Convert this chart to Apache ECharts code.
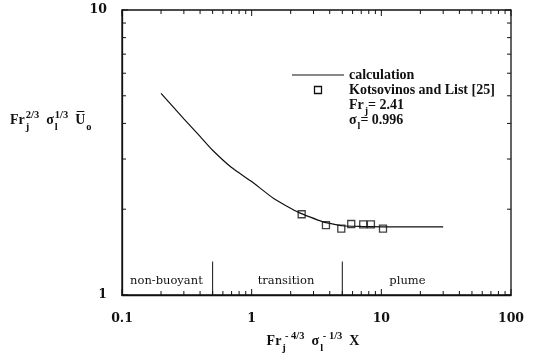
<!DOCTYPE html>
<html><head><meta charset="utf-8">
<script src="https://cdn.jsdelivr.net/npm/echarts@6/dist/echarts.min.js"></script>
<style>html,body{margin:0;padding:0;background:#fff}#c{width:537px;height:356px}</style>
</head><body><div id="c"></div>
<script>
// ---- data ----
const calcX = [0.2, 0.3, 0.4, 0.5, 0.7, 1.0, 1.5, 2.3, 3.5, 5.0, 7.0, 10, 20, 30];
const calcY = [5.1, 4.15, 3.6, 3.22, 2.8, 2.5, 2.17, 1.95, 1.81, 1.75, 1.74, 1.735, 1.735, 1.735];
const expX = [2.43, 3.74, 4.91, 5.86, 7.25, 8.31, 10.3];
const expY = [1.92, 1.76, 1.71, 1.775, 1.77, 1.77, 1.71];
const xTickLabels = ['0.1', '1', '10', '100'];
const yTickLabels = ['1', '10'];
const regionNames = ['non-buoyant', 'transition', 'plume'];
const regionX = [0.22, 1.84, 15.9];
const regionY = [1.12, 1.12, 1.12];
const boundaryX = [0.5, 5];
const boundaryTop = 1.31;
const legendNames = ['calculation', 'Kotsovinos and List [25]'];
const paramLines = [['Fr', 'j', '= 2.41'], ['σ', 'l', '= 0.996']];

// ---- helpers ----
const SERIF = '"Liberation Serif", "Times New Roman", serif';
const fontMain = 'bold 14px ' + SERIF;
const fontSmall = 'bold 10.5px ' + SERIF;
const fontLeg = 'bold 14px ' + SERIF;
const fontLegSmall = 'bold 10px ' + SERIF;
const cv = document.createElement('canvas').getContext('2d');
function tw(t, f) { cv.font = f; return cv.measureText(t).width; }

function mathRow(parts, x, y, align, fMain, fSmall, supDy, subDy) {
  let total = 0;
  const widths = parts.map(p => {
    let w;
    if (p.t !== undefined) w = tw(p.t, fMain);
    else w = Math.max(p.sup ? tw(p.sup, fSmall) : 0, p.sub ? tw(p.sub, fSmall) : 0) + 1;
    total += w; return w;
  });
  let cx = align === 'center' ? x - total / 2 : x;
  const els = [];
  parts.forEach((p, i) => {
    if (p.t !== undefined) {
      els.push({type: 'text', x: cx, y: y, style: {text: p.t, font: fMain, fill: '#111', align: 'left', verticalAlign: 'middle'}});
      if (p.bar) {
        const bw = tw(p.t, fMain);
        els.push({type: 'line', shape: {x1: cx + 1.5, y1: y - 8.5, x2: cx + bw - 1, y2: y - 8.5}, style: {stroke: '#111', lineWidth: 1}});
      }
    } else {
      if (p.sup) els.push({type: 'text', x: cx + 1, y: y + supDy, style: {text: p.sup, font: fSmall, fill: '#111', align: 'left', verticalAlign: 'middle'}});
      if (p.sub) els.push({type: 'text', x: cx + 1, y: y + subDy, style: {text: p.sub, font: fSmall, fill: '#111', align: 'left', verticalAlign: 'middle'}});
    }
    cx += widths[i];
  });
  return els;
}

// tick marks on the four sides (minor at 2..9 per decade)
const tickData = [];
for (let k = -1; k <= 2; k++) {
  for (let m = 1; m <= 9; m++) {
    const v = m * Math.pow(10, k);
    if (v > 100.0001) break;
    const major = m === 1 ? 1 : 0;
    tickData.push([v, 1, 0, major]);
    tickData.push([v, 10, 1, major]);
  }
}
for (let m = 1; m <= 10; m++) {
  const major = (m === 1 || m === 10) ? 1 : 0;
  tickData.push([0.1, m, 2, major]);
  tickData.push([100, m, 3, major]);
}

function labelFor(list, v) {
  const e = Math.round(Math.log10(v));
  const s = list.find(l => Math.abs(Math.log10(parseFloat(l)) - e) < 1e-6);
  return s || '';
}

const chart = echarts.init(document.getElementById('c'), null, {renderer: 'canvas'});

const graphics = [];
// y axis title
graphics.push(...mathRow([{t: 'Fr'}, {sup: '2/3', sub: 'j'}, {t: '  σ'}, {sup: '1/3', sub: 'l'}, {t: '  '}, {t: 'U', bar: true}, {sub: 'o'}],
  10, 120, 'left', fontMain, fontSmall, -5, 7));
// x axis title
graphics.push(...mathRow([{t: 'Fr'}, {sup: ' - 4/3', sub: 'j'}, {t: '  σ'}, {sup: ' - 1/3', sub: 'l'}, {t: '  X'}],
  313, 341, 'center', fontMain, fontSmall, -5, 7));
// legend
graphics.push({type: 'line', shape: {x1: 292, y1: 75, x2: 344, y2: 75}, style: {stroke: '#111', lineWidth: 1.2}});
graphics.push({type: 'rect', shape: {x: 314.5, y: 86.5, width: 7, height: 7}, style: {fill: '#fff', stroke: '#111', lineWidth: 1.3}});
graphics.push({type: 'text', x: 349, y: 75, style: {text: legendNames[0], font: fontLeg, fill: '#111', verticalAlign: 'middle'}});
graphics.push({type: 'text', x: 349, y: 90, style: {text: legendNames[1], font: fontLeg, fill: '#111', verticalAlign: 'middle'}});
graphics.push(...mathRow([{t: paramLines[0][0]}, {sub: paramLines[0][1]}, {t: paramLines[0][2]}], 349, 105, 'left', fontLeg, fontLegSmall, -5, 6));
graphics.push(...mathRow([{t: paramLines[1][0]}, {sub: paramLines[1][1]}, {t: paramLines[1][2]}], 349, 120, 'left', fontLeg, fontLegSmall, -5, 6));

const labelStyle = {color: '#111', fontFamily: '"DejaVu Serif", serif', fontSize: 12.5, fontWeight: 'bold'};

const option = {
  animation: false,
  backgroundColor: '#fff',
  grid: {left: 122, right: 26, top: 10, bottom: 61, show: true, borderColor: '#111', borderWidth: 1.3, backgroundColor: 'transparent'},
  xAxis: {
    type: 'log', logBase: 10, min: 0.1, max: 100,
    axisLine: {show: true, lineStyle: {color: '#111', width: 1.3}},
    axisTick: {show: false}, splitLine: {show: false}, minorTick: {show: false},
    axisLabel: Object.assign({margin: 17, formatter: v => labelFor(xTickLabels, v)}, labelStyle)
  },
  yAxis: {
    type: 'log', logBase: 10, min: 1, max: 10,
    axisLine: {show: true, lineStyle: {color: '#111', width: 1.3}},
    axisTick: {show: false}, splitLine: {show: false}, minorTick: {show: false},
    axisLabel: Object.assign({margin: 15, formatter: v => labelFor(yTickLabels, v)}, labelStyle)
  },
  graphic: graphics,
  series: [
    {
      type: 'custom', name: 'ticks', silent: true, clip: false,
      data: tickData,
      renderItem: function (params, api) {
        const x = api.value(0), y = api.value(1), side = api.value(2), major = api.value(3);
        const p = api.coord([x, y]);
        const len = major ? 6 : 4;
        let x2 = p[0], y2 = p[1];
        if (side === 0) y2 = p[1] - len;
        else if (side === 1) y2 = p[1] + len;
        else if (side === 2) x2 = p[0] + len;
        else x2 = p[0] - len;
        return {type: 'line', shape: {x1: p[0], y1: p[1], x2: x2, y2: y2}, style: {stroke: '#111', lineWidth: 1}};
      }
    },
    {
      type: 'line', name: 'boundary1', silent: true, symbol: 'none',
      data: [[boundaryX[0], 1], [boundaryX[0], boundaryTop]],
      lineStyle: {color: '#111', width: 1}
    },
    {
      type: 'line', name: 'boundary2', silent: true, symbol: 'none',
      data: [[boundaryX[1], 1], [boundaryX[1], boundaryTop]],
      lineStyle: {color: '#111', width: 1}
    },
    {
      type: 'custom', name: 'regions', silent: true,
      data: regionX.map((x, i) => [x, regionY[i]]),
      renderItem: function (params, api) {
        const p = api.coord([api.value(0), api.value(1)]);
        return {type: 'text', x: p[0], y: p[1], style: {text: regionNames[params.dataIndex], font: '11.5px "DejaVu Serif", serif', fill: '#111', align: 'center', verticalAlign: 'middle'}};
      }
    },
    {
      type: 'line', name: legendNames[0], symbol: 'none', smooth: 0.15,
      data: calcX.map((x, i) => [x, calcY[i]]),
      lineStyle: {color: '#111', width: 1.2}
    },
    {
      type: 'scatter', name: legendNames[1], symbol: 'rect', symbolSize: 7,
      data: expX.map((x, i) => [x, expY[i]]),
      itemStyle: {color: '#fff', borderColor: '#111', borderWidth: 1.3}
    }
  ]
};
chart.setOption(option);
</script>
</body></html>
